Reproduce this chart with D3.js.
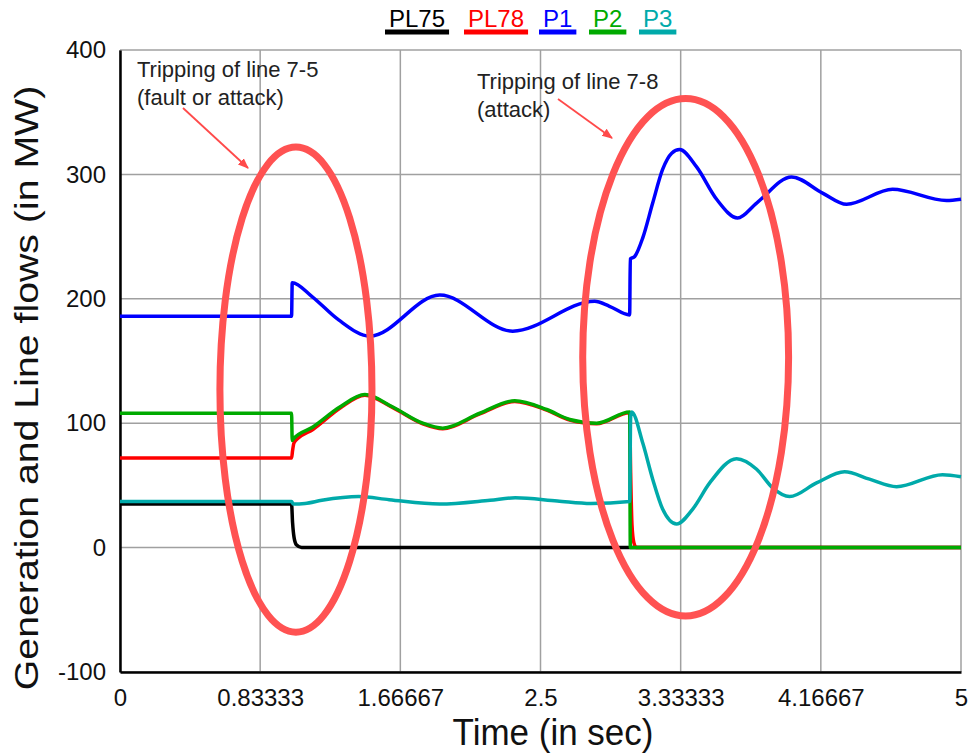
<!DOCTYPE html>
<html>
<head>
<meta charset="utf-8">
<script src="https://cdn.jsdelivr.net/npm/d3@7"></script>
<style>
  html, body { margin: 0; padding: 0; background: #ffffff; }
  svg { display: block; font-family: "Liberation Sans", Arial, Helvetica, sans-serif; }
</style>
</head>
<body>
<svg id="chart" width="972" height="753"></svg>
<script>
// Time axis ticks (seconds) and their printed labels
const xTicks = [0, 0.83333, 1.66667, 2.5, 3.33333, 4.16667, 5];
const xTickLabels = ["0", "0.83333", "1.66667", "2.5", "3.33333", "4.16667", "5"];
const yTicks = [-100, 0, 100, 200, 300, 400];
const yTickLabels = ["-100", "0", "100", "200", "300", "400"];

// Series: [time (s), MW]
const PL75 = [
  [0, 35], [1.02, 35], [1.026, 20], [1.035, 8], [1.05, 2], [1.08, 0], [5, 0]
];
const PL78 = [
  [0, 72], [1.02, 72], [1.026, 78], [1.034, 84], [1.06, 88], [1.147, 95],
  [1.307, 112], [1.456, 122.5], [1.622, 112.5], [1.8, 99.5], [1.919, 95.5],
  [2.139, 107.5], [2.347, 117.5], [2.537, 110.5], [2.674, 102.5], [2.834, 99.5],
  [3.03, 108.5], [3.036, 60], [3.044, 18], [3.055, 4], [3.07, 0], [5, 0]
];
const P1 = [
  [0, 186], [1.02, 186], [1.024, 213], [1.14, 202], [1.3, 183], [1.485, 170],
  [1.901, 203], [2.335, 174], [2.822, 198], [2.91, 194], [3.03, 187],
  [3.034, 232], [3.06, 234], [3.108, 249], [3.167, 277], [3.226, 304],
  [3.28, 317], [3.327, 320], [3.428, 306], [3.547, 280], [3.672, 265],
  [3.785, 277], [3.993, 298], [4.177, 285], [4.32, 276], [4.593, 288],
  [4.914, 279], [5, 280]
];
const P2 = [
  [0, 108], [1.02, 108], [1.024, 86], [1.028, 87], [1.147, 97], [1.307, 113],
  [1.456, 123], [1.622, 113], [1.8, 100], [1.919, 96], [2.139, 108],
  [2.347, 118], [2.537, 111], [2.674, 103], [2.834, 100], [3.03, 109],
  [3.034, 0], [5, 0]
];
const P3 = [
  [0, 37], [1.02, 37], [1.03, 35], [1.1, 35.5], [1.2, 38], [1.42, 41],
  [1.6, 38.5], [1.9, 35], [2.2, 38], [2.35, 40], [2.6, 37.5], [2.8, 35.5],
  [3.03, 37], [3.036, 105], [3.042, 109], [3.108, 84], [3.167, 55],
  [3.226, 31], [3.309, 19], [3.405, 31], [3.506, 52], [3.666, 71.5],
  [3.785, 63], [3.88, 48], [3.981, 41], [4.141, 52], [4.308, 61],
  [4.456, 55], [4.617, 49], [4.89, 58.6], [5, 57]
];

const seriesNames = ["PL75", "PL78", "P1", "P2", "P3"];
const seriesData = [PL75, PL78, P1, P2, P3];
const seriesColors = ["#000000", "#ff0000", "#0000ff", "#00aa00", "#00aaaa"];

// Event highlights: ellipse centre (s, MW) and radii (s, MW)
const highlightCentres = [[1.046, 127], [3.363, 153]];
const highlightRadii = [[0.452, 195], [0.612, 208]];
const noteLines = [["Tripping of line 7-5", "(fault or attack)"], ["Tripping of line 7-8", "(attack)"]];

const svg = d3.select("#chart");
const plotLeft = 120, plotRight = 961, plotTop = 50, plotBottom = 672;

const x = d3.scaleLinear().domain([0, 5]).range([plotLeft, plotRight]);
const y = d3.scaleLinear().domain([-100, 400]).range([plotBottom, plotTop]);

// Grid
const grid = svg.append("g").attr("class", "grid");
grid.selectAll("line.v").data(xTicks).join("line").attr("class", "v")
  .attr("x1", d => x(d)).attr("x2", d => x(d))
  .attr("y1", plotTop).attr("y2", plotBottom)
  .attr("stroke", "#a0a0a0").attr("stroke-width", 1.5);
grid.selectAll("line.h").data(yTicks).join("line").attr("class", "h")
  .attr("x1", plotLeft).attr("x2", plotRight)
  .attr("y1", d => y(d)).attr("y2", d => y(d))
  .attr("stroke", "#a0a0a0").attr("stroke-width", 1.5);

// Axes
const xAxis = d3.axisBottom(x).tickValues(xTicks)
  .tickFormat((d, i) => xTickLabels[i]).tickSize(0).tickPadding(17);
const gx = svg.append("g").attr("transform", `translate(0,${plotBottom})`).call(xAxis);
gx.select(".domain").attr("stroke", "#000").attr("stroke-width", 2.5);
gx.selectAll("text").attr("font-size", 24).attr("fill", "#111")
  .attr("font-family", "Liberation Sans, Arial, sans-serif");

const yAxis = d3.axisLeft(y).tickValues(yTicks)
  .tickFormat((d, i) => yTickLabels[i]).tickSize(0).tickPadding(14);
const gy = svg.append("g").attr("transform", `translate(${plotLeft},0)`).call(yAxis);
gy.select(".domain").attr("stroke", "#000").attr("stroke-width", 2.5);
gy.selectAll("text").attr("font-size", 24).attr("fill", "#111")
  .attr("font-family", "Liberation Sans, Arial, sans-serif");

// Axis titles
svg.append("text")
  .attr("transform", `translate(553,745) scale(1,1.08)`)
  .attr("text-anchor", "middle").attr("font-size", 35).attr("fill", "#111")
  .text("Time (in sec)");
svg.append("text")
  .attr("transform", `translate(38,388) rotate(-90) scale(1.19,1)`)
  .attr("text-anchor", "middle").attr("font-size", 33).attr("fill", "#111")
  .text("Generation and Line flows (in MW)");

// Series lines
const line = d3.line().x(d => x(d[0])).y(d => y(d[1])).curve(d3.curveMonotoneX);
svg.append("g").selectAll("path").data(seriesData).join("path")
  .attr("d", d => line(d))
  .attr("fill", "none")
  .attr("stroke", (d, i) => seriesColors[i])
  .attr("stroke-width", 3.5)
  .attr("stroke-linejoin", "round");

// Legend
const legendX = [389, 468, 543, 593, 643];
const legend = svg.append("g");
seriesNames.forEach((name, i) => {
  const t = legend.append("text")
    .attr("x", legendX[i]).attr("y", 27)
    .attr("font-size", 24).attr("fill", seriesColors[i])
    .text(name);
  const w = t.node().getComputedTextLength();
  legend.append("line")
    .attr("x1", legendX[i] - 4).attr("x2", legendX[i] + w + 4)
    .attr("y1", 32).attr("y2", 32)
    .attr("stroke", seriesColors[i]).attr("stroke-width", 5);
});

// Event highlights
svg.append("g").selectAll("ellipse").data(highlightCentres).join("ellipse")
  .attr("cx", d => x(d[0])).attr("cy", d => y(d[1]))
  .attr("rx", (d, i) => x(highlightRadii[i][0]) - x(0))
  .attr("ry", (d, i) => y(0) - y(highlightRadii[i][1]))
  .attr("fill", "none").attr("stroke", "#ff5252").attr("stroke-width", 7);

// Notes with arrows
const defs = svg.append("defs");
defs.append("marker").attr("id", "arrow").attr("viewBox", "0 0 10 10")
  .attr("refX", 9).attr("refY", 5).attr("markerWidth", 6).attr("markerHeight", 6)
  .attr("orient", "auto")
  .append("path").attr("d", "M0,1 L10,5 L0,9 z").attr("fill", "#ff4a4a");

const notePos = [[137, 77], [477, 89]];
notePos.forEach((p, i) => {
  noteLines[i].forEach((s, j) => {
    svg.append("text").attr("x", p[0]).attr("y", p[1] + j * 28)
      .attr("font-size", 22).attr("fill", "#222").text(s);
  });
});
const arrows = [[183, 108, 248, 168], [558, 99, 612, 138]];
svg.append("g").selectAll("line").data(arrows).join("line")
  .attr("x1", d => d[0]).attr("y1", d => d[1])
  .attr("x2", d => d[2]).attr("y2", d => d[3])
  .attr("stroke", "#ff4a4a").attr("stroke-width", 1.8)
  .attr("marker-end", "url(#arrow)");
</script>
</body>
</html>
